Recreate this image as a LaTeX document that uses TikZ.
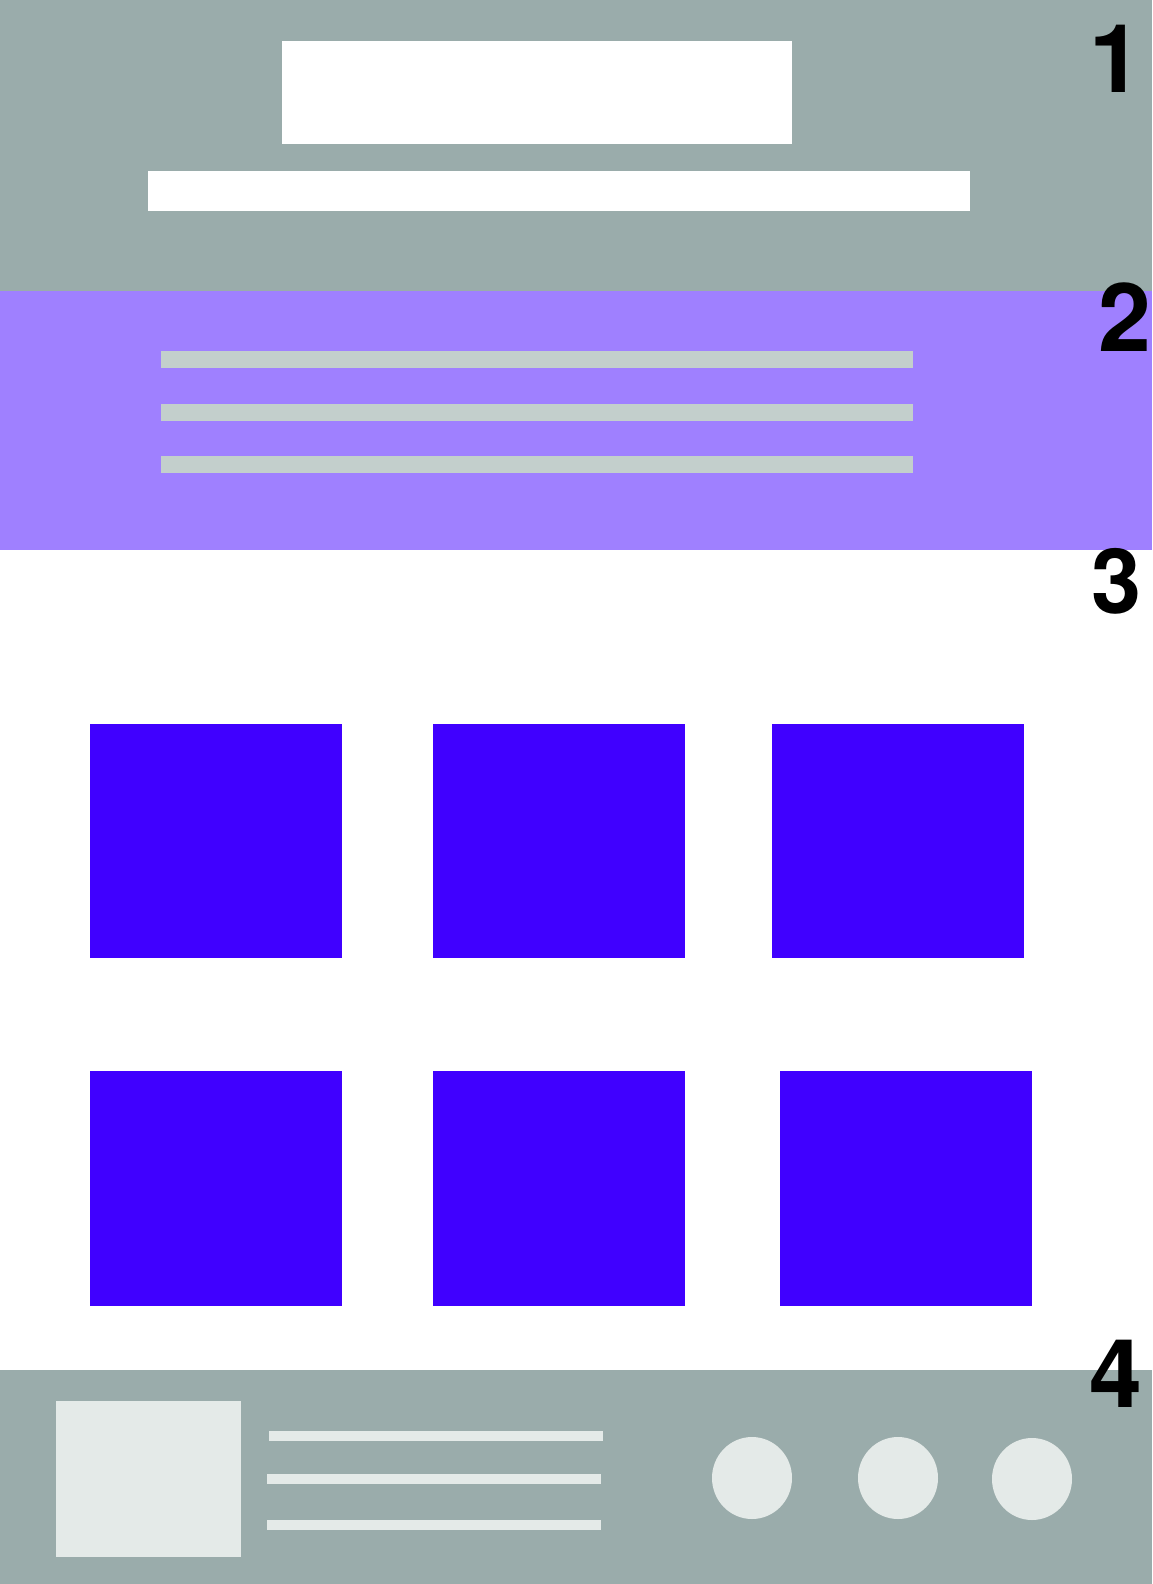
\documentclass[tikz,border=0pt]{standalone}
\usepackage{fontspec}
\setmainfont{TeX Gyre Heros}
\definecolor{bandgrey}{HTML}{9AACAB}
\definecolor{bandpurple}{HTML}{9F80FF}
\definecolor{tileblue}{HTML}{4000FF}
\definecolor{barpale}{HTML}{C3CFCC}
\definecolor{lightgrey}{HTML}{E4EAE8}
\tikzset{
  num/.style={inner sep=0pt, text=black, font=\fontsize{95bp}{95bp}\selectfont\bfseries},
  tile/.style={fill=tileblue},
}
\begin{document}
\begin{tikzpicture}[x=1bp,y=-1bp]
\useasboundingbox (0,0) rectangle (1152,1584);
\fill[white] (0,0) rectangle (1152,1584);
% section 1
\fill[bandgrey] (0,0) rectangle (1152,291);
\fill[white] (282,41) rectangle (792,144);
\fill[white] (147.5,171) rectangle (970,211);
% section 2
\fill[bandpurple] (0,291) rectangle (1152,550);
\fill[barpale] (161,351) rectangle (913,368);
\fill[barpale] (161,404) rectangle (913,421);
\fill[barpale] (161,456) rectangle (913,473);
% section 3 tiles
\fill[tile] (90,724) rectangle (342,958);
\fill[tile] (433,724) rectangle (685,958);
\fill[tile] (772,724) rectangle (1024,958);
\fill[tile] (90,1071) rectangle (342,1306);
\fill[tile] (433,1071) rectangle (685,1306);
\fill[tile] (780,1071) rectangle (1032,1306);
% section 4
\fill[bandgrey] (0,1370) rectangle (1152,1584);
\fill[lightgrey] (56,1401) rectangle (241,1557);
\fill[lightgrey] (269,1431) rectangle (603,1441);
\fill[lightgrey] (267,1474) rectangle (601,1484);
\fill[lightgrey] (267,1520) rectangle (601,1530);
\fill[lightgrey] (752,1478) ellipse [x radius=40, y radius=41];
\fill[lightgrey] (898,1478) ellipse [x radius=40, y radius=41];
\fill[lightgrey] (1032,1479) ellipse [x radius=40, y radius=41];
% numbers
\node[num] (n1) at (1116,59) {1};
\node[num] (n2) at (1125,317) {2};
\node[num, font=\fontsize{90bp}{90bp}\selectfont\bfseries] (n3) at (1117,581) {3};
\node[num] (n4) at (1116,1374) {4};
\end{tikzpicture}
\end{document}
